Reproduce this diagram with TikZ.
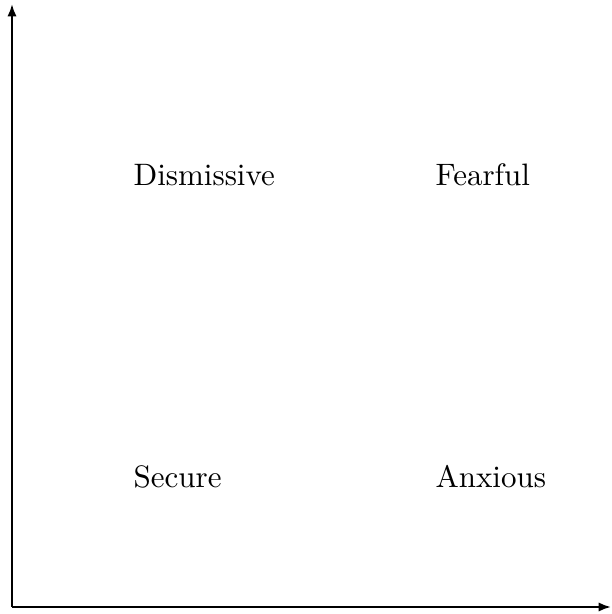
\documentclass[tikz,border=0pt]{standalone}
\usepackage{tikz}
\usetikzlibrary{arrows.meta,positioning}

\begin{document}
\begin{tikzpicture}[x=1.134cm,y=1.134cm]
        \useasboundingbox (-0.12,-0.07) rectangle (5.99,6.07);
        % Axes
        \coordinate (origin) at (0,0);
        \coordinate (xend) at (5.99,0);
        \coordinate (yend) at (0,6.03);
        \draw[line width=0.7pt,-{Latex[length=4pt,width=3pt]}] (origin) -- (xend);
        \draw[line width=0.7pt,-{Latex[length=4pt,width=3pt]}] (origin) -- (yend);
        % Quadrant labels
        \foreach \n/\x/\y/\l in {sec/1.21/1.30/Secure,anx/4.23/1.30/Anxious,
                                 dis/1.21/4.32/Dismissive,fea/4.23/4.32/Fearful}
          \node[anchor=west,inner sep=0pt] (\n) at (\x,\y) {\l};
      \end{tikzpicture}
\end{document}
